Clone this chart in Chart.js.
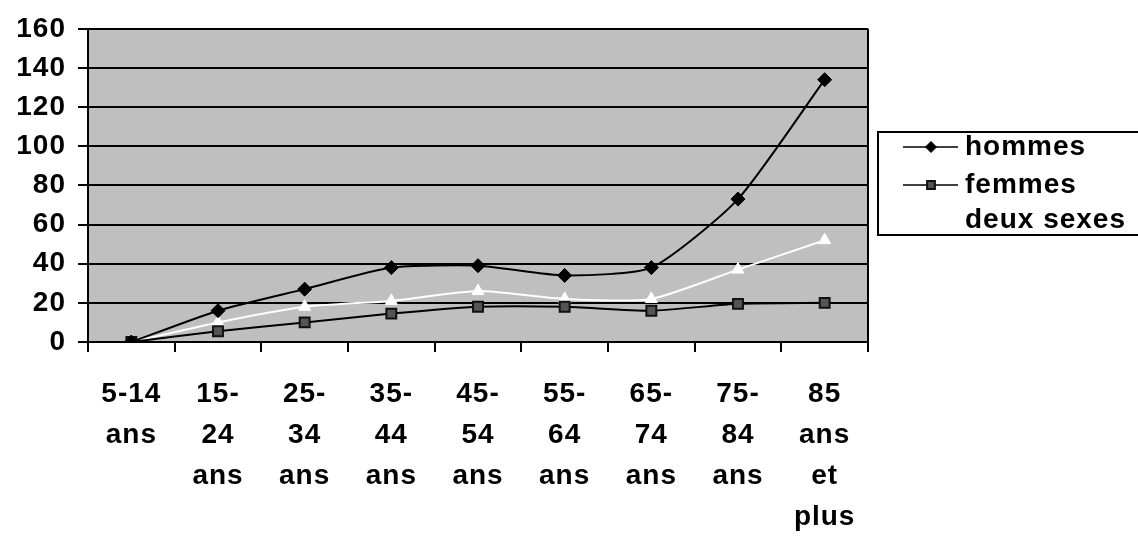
<!DOCTYPE html>
<html>
<head>
<meta charset="utf-8">
<script src="https://cdn.jsdelivr.net/npm/chart.js@4.4.1/dist/chart.umd.min.js"></script>
<style>
  html, body { margin: 0; padding: 0; background: #fff; }
  #wrap { width: 1138px; height: 536px; position: relative; }
</style>
</head>
<body>
<div id="wrap"><canvas id="chart" width="1138" height="536"></canvas></div>
<script>
const ageGroups = [
  ["5-14", "ans"],
  ["15-", "24", "ans"],
  ["25-", "34", "ans"],
  ["35-", "44", "ans"],
  ["45-", "54", "ans"],
  ["55-", "64", "ans"],
  ["65-", "74", "ans"],
  ["75-", "84", "ans"],
  ["85", "ans", "et", "plus"],
];
const hommes = [0, 16, 27, 38, 39, 34, 38, 73, 134];
const femmes = [0, 5.5, 10, 14.5, 18, 18, 16, 19.5, 20];
const deuxSexes = [0, 10, 18, 21, 26, 22, 22, 37, 52];
const yTicks = [0, 20, 40, 60, 80, 100, 120, 140, 160];

const FONT = "'Liberation Sans', Arial, Helvetica, sans-serif";

// the scanned labels are set a bit wide
const wideText = {
  id: "wideText",
  beforeDraw(chart) { chart.ctx.letterSpacing = "1px"; },
};

const plotBackground = {
  id: "plotBackground",
  beforeDraw(chart) {
    const { ctx, chartArea: a } = chart;
    ctx.save();
    ctx.fillStyle = "#bfbfbf";
    ctx.fillRect(a.left, a.top, a.right - a.left, a.bottom - a.top);
    ctx.restore();
  },
  afterDatasetsDraw(chart) {
    const { ctx, chartArea: a } = chart;
    ctx.save();
    ctx.strokeStyle = "#000";
    ctx.lineWidth = 2;
    ctx.beginPath();
    ctx.moveTo(a.right, a.top);
    ctx.lineTo(a.right, a.bottom);
    ctx.stroke();
    ctx.restore();
  },
};

// legend drawn by hand: line + marker + label, in a framed box
const boxLegend = {
  id: "boxLegend",
  afterDraw(chart) {
    const { ctx } = chart;
    const left = 878, top = 132, right = 1140, bottom = 235;
    ctx.save();
    ctx.strokeStyle = "#000";
    ctx.lineWidth = 2;
    ctx.strokeRect(left, top, right - left, bottom - top);
    const rows = [147, 185, 220];
    chart.data.datasets.forEach((ds, i) => {
      const y = rows[i];
      ctx.strokeStyle = ds.borderColor;
      ctx.lineWidth = 1.5;
      ctx.beginPath();
      ctx.moveTo(903, y);
      ctx.lineTo(958, y);
      ctx.stroke();
      ctx.fillStyle = ds.pointBackgroundColor;
      ctx.strokeStyle = ds.pointBorderColor;
      ctx.lineWidth = ds.pointBorderWidth;
      Chart.helpers.drawPoint(ctx, {
        pointStyle: ds.pointStyle,
        radius: ds.pointRadius - 1.5,
        borderWidth: ds.pointBorderWidth,
      }, 931, y);
      ctx.fillStyle = "#000";
      ctx.font = `bold 28px ${FONT}`;
      ctx.textBaseline = "middle";
      ctx.fillText(ds.label, 965, y);
    });
    ctx.restore();
  },
};

new Chart(document.querySelector("#chart"), {
  type: "line",
  data: {
    labels: ageGroups,
    datasets: [
      {
        label: "hommes",
        data: hommes,
        borderColor: "#000000",
        borderWidth: 2,
        pointStyle: "rectRot",
        pointRadius: 7,
        pointBackgroundColor: "#000000",
        pointBorderColor: "#000000",
        pointBorderWidth: 1,
        tension: 0.2,
      },
      {
        label: "femmes",
        data: femmes,
        borderColor: "#000000",
        borderWidth: 2,
        pointStyle: "rect",
        pointRadius: 7,
        pointBackgroundColor: "#555555",
        pointBorderColor: "#111111",
        pointBorderWidth: 2,
        tension: 0.2,
      },
      {
        label: "deux sexes",
        data: deuxSexes,
        borderColor: "#ffffff",
        borderWidth: 2,
        pointStyle: "triangle",
        pointRadius: 7,
        pointBackgroundColor: "#ffffff",
        pointBorderColor: "#ffffff",
        pointBorderWidth: 1,
        tension: 0.2,
      },
    ],
  },
  options: {
    responsive: false,
    animation: false,
    layout: { padding: { top: 24, right: 270, bottom: 0, left: 0 } },
    plugins: {
      legend: { display: false },
      tooltip: { enabled: false },
    },
    scales: {
      x: {
        offset: true,
        grid: {
          offset: true,
          drawOnChartArea: false,
          drawTicks: true,
          tickLength: 10,
          color: "#000",
          lineWidth: 2,
        },
        border: { color: "#000", width: 2 },
        ticks: {
          color: "#000",
          autoSkip: false,
          maxRotation: 0,
          padding: 22,
          font: { family: FONT, size: 28, weight: "bold", lineHeight: 1.465 },
        },
        afterFit(scale) { scale.height = 194; },
      },
      y: {
        min: 0,
        max: 160,
        afterBuildTicks(scale) { scale.ticks = yTicks.map((v) => ({ value: v })); },
        grid: {
          color: "#000",
          lineWidth: 2,
          tickLength: 10,
        },
        border: { color: "#000", width: 2 },
        ticks: {
          color: "#000",
          padding: 12,
          font: { family: FONT, size: 28, weight: "bold" },
        },
        afterFit(scale) { scale.width = 88; },
      },
    },
  },
  plugins: [wideText, plotBackground, boxLegend],
});
</script>
</body>
</html>
